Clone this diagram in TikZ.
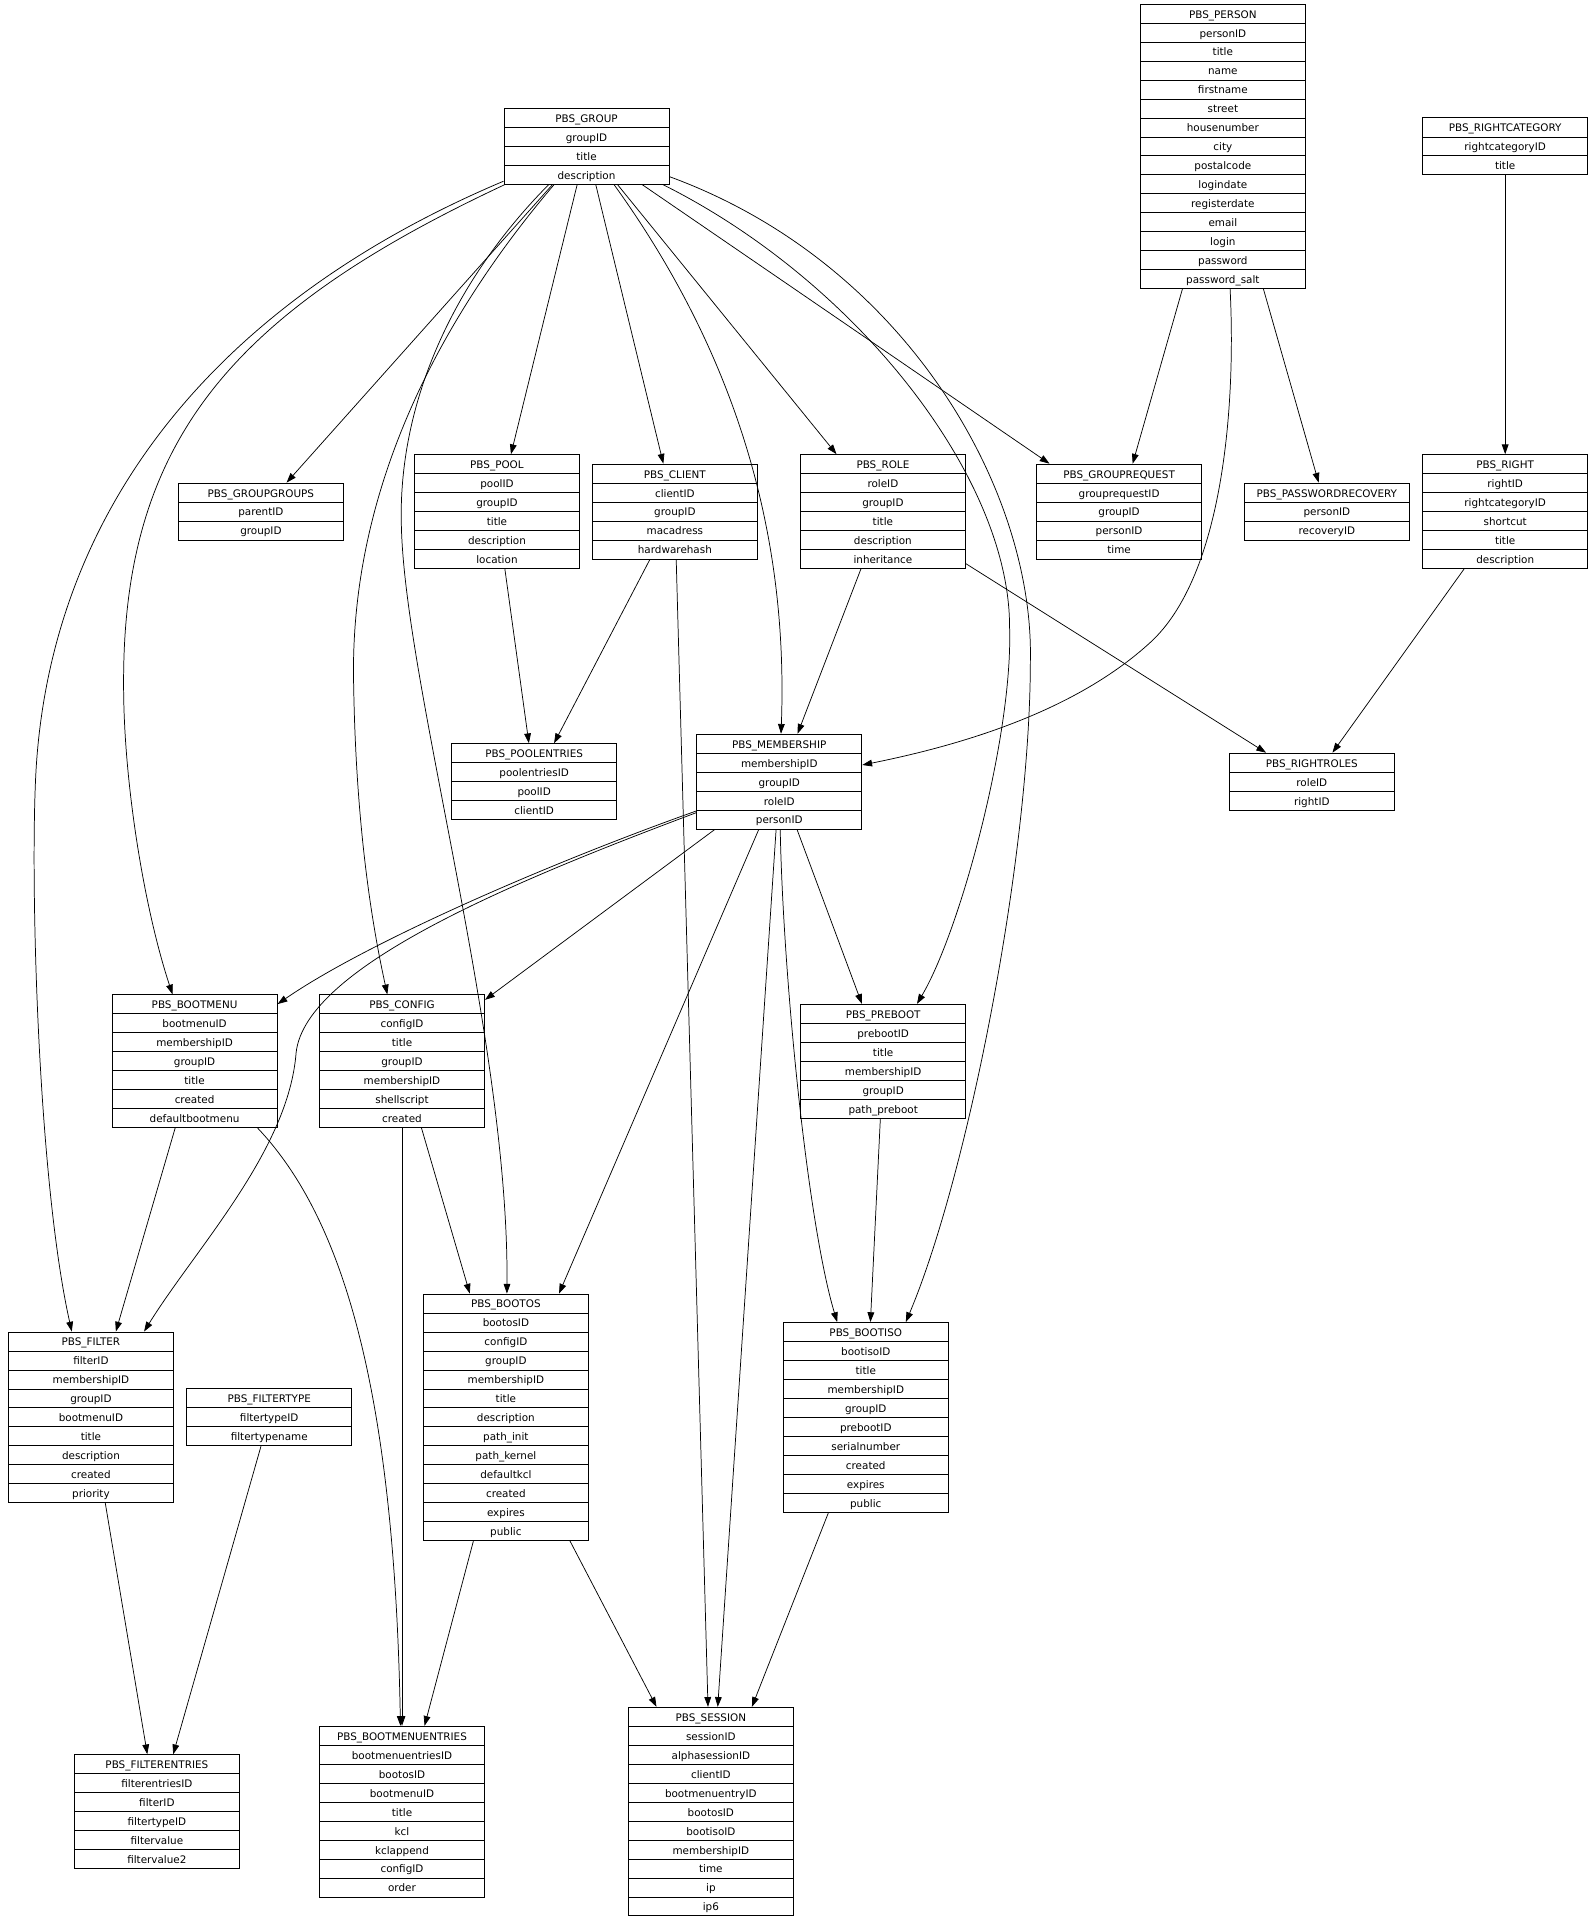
\documentclass[tikz,border=0pt]{standalone}
\usepackage{fontspec}
\setmainfont{DejaVu Sans}
\usetikzlibrary{arrows.meta}

\newcommand\tabfont{\fontsize{8.5}{10}\selectfont}
\newcommand\hd[1]{\hbox to 135pt{\hss\rule[-4.1pt]{0pt}{15.5pt}#1\hss}}
\newcommand\rw[1]{\kern-0.3pt\hrule height 0.6pt\kern-0.3pt\hd{#1}}
\newcommand\entity[2]{\vbox{\hd{#1}\foreach \f in {#2}{\rw{\f}}}}

\tikzset{
  tbl/.style={draw, line width=0.7pt, inner sep=0pt, font=\tabfont},
  fk/.style={-{Triangle[length=8pt,width=5.5pt]}, line width=0.6pt}
}

\begin{document}
\begin{tikzpicture}[x=1pt,y=-1pt]
  \useasboundingbox (0,0) rectangle (1300,1569);

  % Tables, rank 0
  \node[tbl] (person) at (999.3,119.6) {\entity{PBS\_PERSON}{personID,title,name,firstname,street,housenumber,city,postalcode,logindate,registerdate,email,login,password,password\_salt}};
  \node[tbl] (group) at (479.3,119.6) {\entity{PBS\_GROUP}{groupID,title,description}};
  \node[tbl] (rightcat) at (1230,119.6) {\entity{PBS\_RIGHTCATEGORY}{rightcategoryID,title}};

  % Tables, rank 1
  \node[tbl] (groupgroups) at (213.2,418) {\entity{PBS\_GROUPGROUPS}{parentID,groupID}};
  \node[tbl] (pool) at (406.1,418) {\entity{PBS\_POOL}{poolID,groupID,title,description,location}};
  \node[tbl] (client) at (551.5,418) {\entity{PBS\_CLIENT}{clientID,groupID,macadress,hardwarehash}};
  \node[tbl] (role) at (721.5,418) {\entity{PBS\_ROLE}{roleID,groupID,title,description,inheritance}};
  \node[tbl] (grouprequest) at (914.5,418) {\entity{PBS\_GROUPREQUEST}{grouprequestID,groupID,personID,time}};
  \node[tbl] (pwrecovery) at (1084.3,418) {\entity{PBS\_PASSWORDRECOVERY}{personID,recoveryID}};
  \node[tbl] (right) at (1230,418) {\entity{PBS\_RIGHT}{rightID,rightcategoryID,shortcut,title,description}};

  % Tables, rank 2
  \node[tbl] (poolentries) at (436.5,638.7) {\entity{PBS\_POOLENTRIES}{poolentriesID,poolID,clientID}};
  \node[tbl] (membership) at (636.8,638.7) {\entity{PBS\_MEMBERSHIP}{membershipID,groupID,roleID,personID}};
  \node[tbl] (rightroles) at (1072,638.7) {\entity{PBS\_RIGHTROLES}{roleID,rightID}};

  % Tables, rank 3
  \node[tbl] (bootmenu) at (159,867.2) {\entity{PBS\_BOOTMENU}{bootmenuID,membershipID,groupID,title,created,defaultbootmenu}};
  \node[tbl] (config) at (328.5,867.2) {\entity{PBS\_CONFIG}{configID,title,groupID,membershipID,shellscript,created}};
  \node[tbl] (preboot) at (721.7,867.2) {\entity{PBS\_PREBOOT}{prebootID,title,membershipID,groupID,path\_preboot}};

  % Tables, rank 4
  \node[tbl] (filter) at (74.3,1158.2) {\entity{PBS\_FILTER}{filterID,membershipID,groupID,bootmenuID,title,description,created,priority}};
  \node[tbl] (filtertype) at (220,1158.2) {\entity{PBS\_FILTERTYPE}{filtertypeID,filtertypename}};
  \node[tbl] (bootos) at (413.4,1158.2) {\entity{PBS\_BOOTOS}{bootosID,configID,groupID,membershipID,title,description,path\_init,path\_kernel,defaultkcl,created,expires,public}};
  \node[tbl] (bootiso) at (707.5,1158.2) {\entity{PBS\_BOOTISO}{bootisoID,title,membershipID,groupID,prebootID,serialnumber,created,expires,public}};

  % Tables, rank 5
  \node[tbl] (filterentries) at (128.2,1480.4) {\entity{PBS\_FILTERENTRIES}{filterentriesID,filterID,filtertypeID,filtervalue,filtervalue2}};
  \node[tbl] (bmentries) at (328.5,1480.4) {\entity{PBS\_BOOTMENUENTRIES}{bootmenuentriesID,bootosID,bootmenuID,title,kcl,kclappend,configID,order}};
  \node[tbl] (session) at (580.9,1480.4) {\entity{PBS\_SESSION}{sessionID,alphasessionID,clientID,bootmenuentryID,bootosID,bootisoID,membershipID,time,ip,ip6}};

  % Straight references
  \draw[fk] (group) -- (groupgroups);
  \draw[fk] (group) -- (pool);
  \draw[fk] (group) -- (client);
  \draw[fk] (group) -- (role);
  \draw[fk] (group) -- (grouprequest);
  \draw[fk] (person) -- (grouprequest);
  \draw[fk] (person) -- (pwrecovery);
  \draw[fk] (rightcat) -- (right);
  \draw[fk] (pool) -- (poolentries);
  \draw[fk] (client) -- (poolentries);
  \draw[fk] (client) -- (session);
  \draw[fk] (role) -- (membership);
  \draw[fk] (role) -- (rightroles);
  \draw[fk] (right) -- (rightroles);
  \draw[fk] (membership) -- (config);
  \draw[fk] (membership) -- (bootos);
  \draw[fk] (membership) -- (session);
  \draw[fk] (membership) -- (preboot);
  \draw[fk] (bootmenu) -- (filter);
  \draw[fk] (config) -- (bmentries);
  \draw[fk] (config) -- (bootos);
  \draw[fk] (preboot) -- (bootiso);
  \draw[fk] (bootos) -- (bmentries);
  \draw[fk] (bootos) -- (session);
  \draw[fk] (bootiso) -- (session);
  \draw[fk] (filter) -- (filterentries);
  \draw[fk] (filtertype) -- (filterentries);

  % Curved references
  \draw[fk] (group) .. controls (620,315) and (643,470) .. (membership);
  \draw[fk] (group) .. controls (700,230) and (825,390) .. (825,512) .. controls (828,600) and (785,760) .. (preboot);
  \draw[fk] (group) .. controls (740,215) and (845,400) .. (842,540) .. controls (842,700) and (791,960) .. (bootiso);
  \draw[fk] (group) .. controls (170,250) and (45,420) .. (30,621) .. controls (24,701) and (30,960) .. (filter);
  \draw[fk] (group) .. controls (190,255) and (100,360) .. (101,560) .. controls (101,640) and (118,743) .. (bootmenu);
  \draw[fk] (group) .. controls (360,260) and (285,400) .. (289,560) .. controls (291,680) and (305,760) .. (config);
  \draw[fk] (group) .. controls (370,230) and (325,330) .. (328,430) .. controls (331,560) and (416,850) .. (bootos);
  \draw[fk] (person) .. controls (1010,330) and (1000,470) .. (940,525) .. controls (880,580) and (790,608) .. (membership);
  \draw[fk] (membership) .. controls (450,705) and (300,770) .. (bootmenu);
  \draw[fk] (membership) .. controls (420,720) and (250,790) .. (242,860) .. controls (236,940) and (160,1020) .. (filter);
  \draw[fk] (membership) .. controls (640,800) and (660,1000) .. (bootiso);
  \draw[fk] (bootmenu) .. controls (275,990) and (322,1120) .. (bmentries);
\end{tikzpicture}
\end{document}
